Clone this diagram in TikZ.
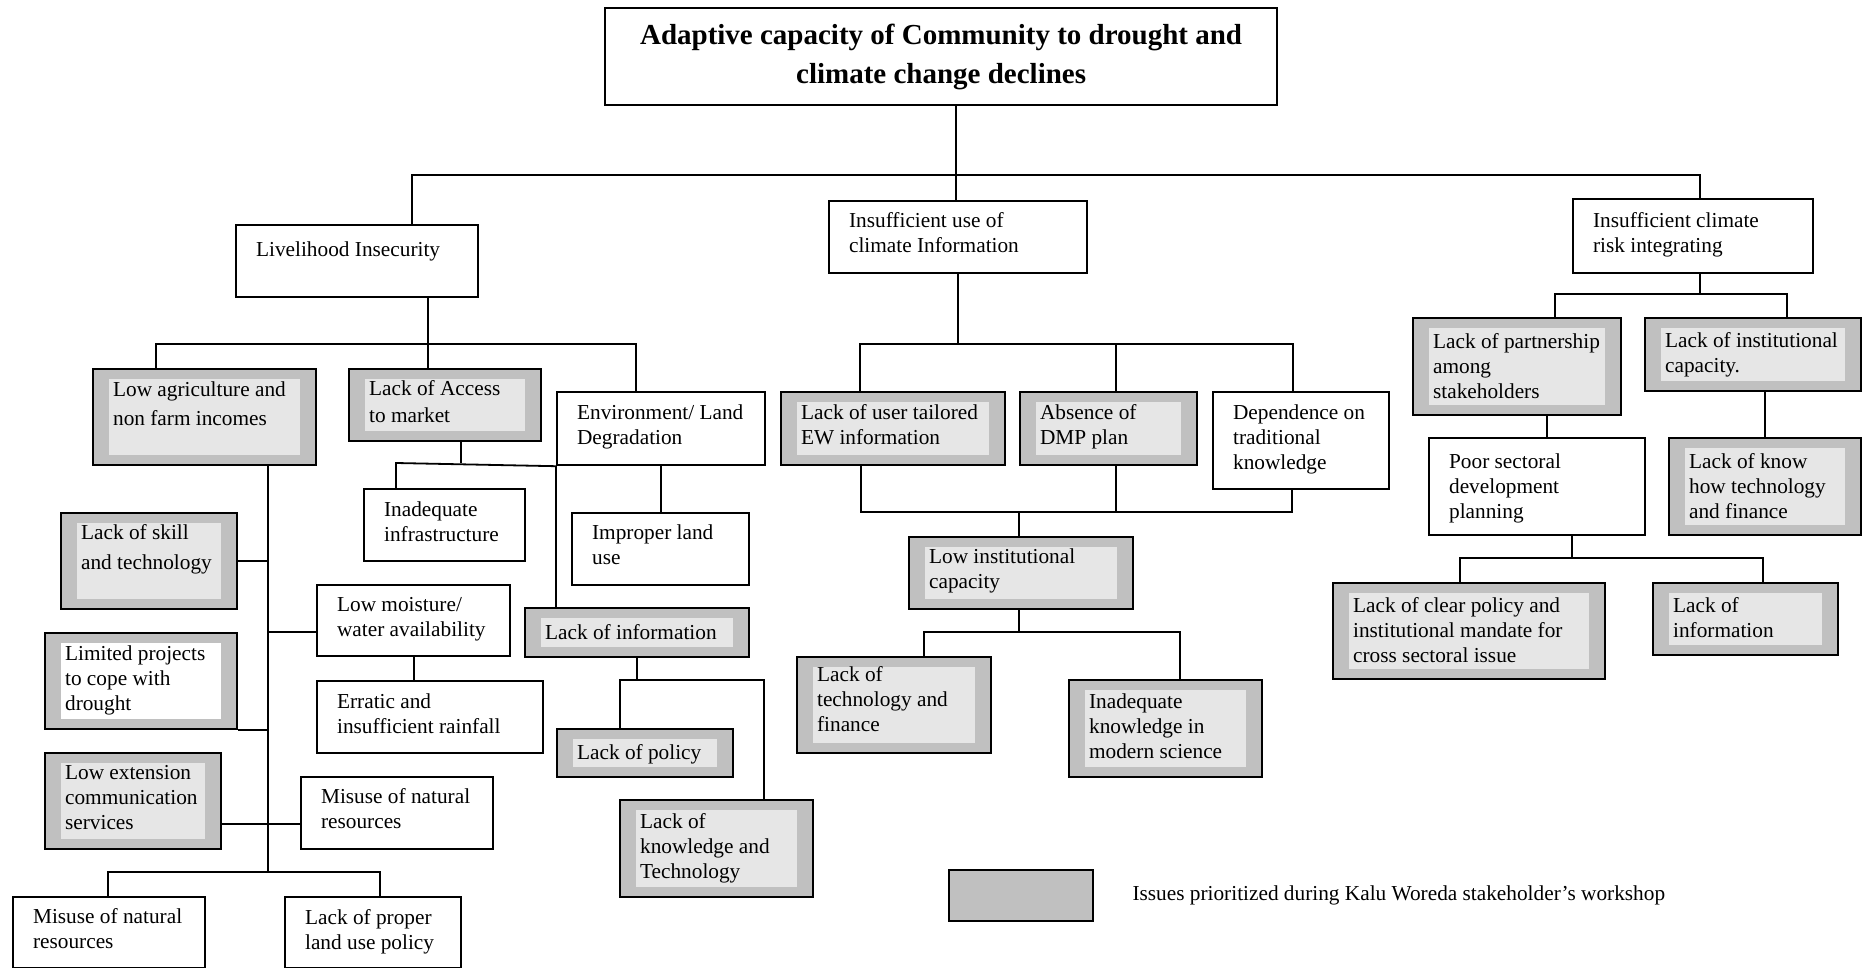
\documentclass[tikz,border=0pt]{standalone}
\usepackage{fontspec}
\setmainfont{Liberation Serif}
\usepackage{tikz}
\usetikzlibrary{calc}
\usetikzlibrary{positioning}

\definecolor{outgray}{HTML}{C0C0C0}
\definecolor{ingray}{HTML}{E6E6E6}

% box text: [top pad]{width}{height}{lines}
\newcommand{\boxtxt}[4][9.5]{\parbox[b][#3pt][t]{#2pt}{\vspace*{#1pt}\hspace*{20pt}\begin{tabular}[t]{@{}l@{}}#4\end{tabular}}}

\tikzset{
  box/.style={draw, line width=2.2pt, anchor=north west, inner sep=0pt},
  plain/.style={box, fill=white},
  prio/.style={box, fill=outgray, path picture={\fill[#1] ([shift={(16pt,-10pt)}]path picture bounding box.north west) rectangle ([shift={(-16pt,10pt)}]path picture bounding box.south east);}},
  prio/.default=ingray,
  conn/.style={line width=1.8pt},
}

\begin{document}
\begin{tikzpicture}[x=1pt,y=-1pt,every node/.style={font=\fontsize{21.3}{25}\selectfont}]
\useasboundingbox (0,0) rectangle (1865,968);

% top
\node[plain, minimum width=672, minimum height=97, align=center, font=\fontsize{29}{39}\selectfont\bfseries] (title) at (604,7) {Adaptive capacity of Community to drought and\\ climate change declines};
\node[plain] (liveli) at (235,224) {\boxtxt[13.5]{242}{72}{Livelihood Insecurity}};
\node[plain] (insuf) at (828,200) {\boxtxt[8.5]{258}{72}{Insufficient use of\\ climate Information}};
\node[plain] (climrisk) at (1572,198) {\boxtxt[10.5]{240}{74}{Insufficient climate\\ risk integrating}};

% livelihood branch
\node[prio] (lowagri) at (92,368) {\boxtxt{223}{96}{Low agriculture and\\[4pt] non farm incomes}};
\node[prio] (access) at (348,368) {\boxtxt[8.5]{192}{72}{Lack of Access\\[2pt] to market}};
\node[plain] (env) at (556,391) {\boxtxt{208}{73}{Environment/ Land\\ Degradation}};
\node[plain] (infra) at (363,488) {\boxtxt{161}{72}{Inadequate\\ infrastructure}};
\node[plain] (improper) at (571,512) {\boxtxt[8.5]{177}{72}{Improper land\\ use}};
\node[prio] (skill) at (60,512) {\boxtxt[8.5]{176}{96}{Lack of skill\\[5pt] and technology}};
\node[plain] (moist) at (316,584) {\boxtxt[8.5]{193}{71}{Low moisture/\\ water availability}};
\node[prio] (lackinfo) at (524,607) {\boxtxt[13.5]{224}{49}{Lack of information}};
\node[prio=white] (limited) at (44,632) {\boxtxt{192}{96}{Limited projects\\ to cope with\\ drought}};
\node[plain] (erratic) at (316,680) {\boxtxt{226}{72}{Erratic and\\ insufficient rainfall}};
\node[prio] (lowext) at (44,752) {\boxtxt[8.5]{176}{96}{Low extension\\ communication\\ services}};
\node[plain] (misuse) at (300,776) {\boxtxt[8.5]{192}{72}{Misuse of natural\\ resources}};
\node[plain] (misusetwo) at (12,896) {\boxtxt[8.5]{192}{71}{Misuse of natural\\ resources}};
\node[plain] (landpol) at (284,896) {\boxtxt{176}{71}{Lack of proper\\ land use policy}};
\node[prio] (policy) at (556,728) {\boxtxt[12.5]{176}{48}{Lack of policy}};
\node[prio] (knowtech) at (619,799) {\boxtxt[10.5]{193}{97}{Lack of\\ knowledge and\\ Technology}};

% climate information branch
\node[prio] (usertail) at (780,391) {\boxtxt{224}{73}{Lack of user tailored\\ EW information}};
\node[prio] (dmp) at (1019,391) {\boxtxt{177}{73}{Absence of\\ DMP plan}};
\node[plain] (depend) at (1212,391) {\boxtxt{176}{97}{Dependence on\\ traditional\\ knowledge}};
\node[prio] (lowinst) at (908,536) {\boxtxt[8.5]{224}{72}{Low institutional\\ capacity}};
\node[prio] (techfin) at (796,656) {\boxtxt[6.5]{194}{96}{Lack of\\ technology and\\ finance}};
\node[prio] (inadeq) at (1068,679) {\boxtxt[10.5]{193}{97}{Inadequate\\ knowledge in\\ modern science}};

% climate risk branch
\node[prio] (partner) at (1412,317) {\boxtxt[12.5]{208}{97}{Lack of partnership\\ among\\ stakeholders}};
\node[prio] (instcap) at (1644,317) {\boxtxt[11.5]{216}{73}{Lack of institutional\\ capacity.}};
\node[plain] (poor) at (1428,437) {\boxtxt[12.5]{216}{97}{Poor sectoral\\ development\\ planning}};
\node[prio] (knowhow) at (1668,437) {\boxtxt[12.5]{192}{97}{Lack of know\\ how technology\\ and finance}};
\node[prio] (clear) at (1332,582) {\boxtxt[11.5]{272}{96}{Lack of clear policy and\\ institutional mandate for\\ cross sectoral issue}};
\node[prio] (infotwo) at (1652,582) {\boxtxt[11.5]{185}{72}{Lack of\\ information}};

% legend
\node[box, fill=outgray, minimum width=144, minimum height=51] (legbox) at (948,869) {};
\node[anchor=west] (legtxt) at (1129,895) {Issues prioritized during Kalu Woreda stakeholder’s workshop};

% top level lines
\coordinate (t1) at (412,175);
\coordinate (t2) at (956,175);
\coordinate (t3) at (1700,175);
\draw[conn] (liveli.north -| t1) -- (t1) -- (t3) -- (climrisk.north -| t3);
\draw[conn] (title.south -| t2) -- (insuf.north -| t2);

% livelihood lines
\coordinate (l1) at (156,344);
\coordinate (l2) at (428,344);
\coordinate (l3) at (636,344);
\draw[conn] (liveli.south -| l2) -- (access.north -| l2);
\draw[conn] (lowagri.north -| l1) -- (l1) -- (l3) -- (env.north -| l3);
\coordinate (a1) at (396,463);
\coordinate (a2) at (461,463);
\draw[conn] (access.south -| a2) -- (a2);
\draw[conn] (infra.north -| a1) -- (a1) -- (env.south west);
\draw[conn] (env.south west) -- (lackinfo.north -| env.south west);
\draw[conn] (env.south -| improper.north) -- (improper.north);

% left spine
\coordinate (s1) at (268,872);
\coordinate (s2) at (268,632);
\coordinate (s3) at (220,824);
\draw[conn] (lowagri.south -| s1) -- (s1);
\draw[conn] (skill.east) -- (skill.east -| s1);
\draw[conn] (s2) -- (moist.west |- s2);
\draw[conn] (limited.south east) -- (limited.south east -| s1);
\draw[conn] (lowext.east |- s3) -- (misuse.west |- s3);
\coordinate (s4) at (108,872);
\coordinate (s5) at (380,872);
\draw[conn] (misusetwo.north -| s4) -- (s4) -- (s5) -- (landpol.north -| s5);
\draw[conn] (moist.south) -- (moist.south |- erratic.north);

% lack of information
\coordinate (i1) at (620,680);
\coordinate (i2) at (764,680);
\draw[conn] (lackinfo.south) -- (lackinfo.south |- i1);
\draw[conn] (policy.north -| i1) -- (i1) -- (i2) -- (knowtech.north -| i2);

% climate information lines
\coordinate (u1) at (860,344);
\coordinate (u2) at (1116,344);
\coordinate (u3) at (1293,344);
\draw[conn] (insuf.south) -- (insuf.south |- u1);
\draw[conn] (usertail.north -| u1) -- (u1) -- (u3) -- (depend.north -| u3);
\draw[conn] (u2) -- (dmp.north -| u2);
\coordinate (d1) at (861,512);
\coordinate (d2) at (1019,512);
\coordinate (d3) at (1292,512);
\draw[conn] (usertail.south -| d1) -- (d1) -- (d3) -- (depend.south -| d3);
\draw[conn] (dmp.south -| u2) -- (u2 |- d1);
\draw[conn] (d2) -- (lowinst.north -| d2);
\coordinate (n1) at (924,632);
\coordinate (n2) at (1180,632);
\draw[conn] (lowinst.south -| d2) -- (d2 |- n1);
\draw[conn] (techfin.north -| n1) -- (n1) -- (n2) -- (inadeq.north -| n2);

% climate risk lines
\coordinate (r1) at (1555,294);
\coordinate (r2) at (1787,294);
\coordinate (r3) at (1547,437);
\draw[conn] (climrisk.south -| t3) -- (t3 |- r1);
\draw[conn] (partner.north -| r1) -- (r1) -- (r2) -- (instcap.north -| r2);
\draw[conn] (partner.south -| r3) -- (r3);
\draw[conn] (instcap.south -| knowhow.north) -- (knowhow.north);
\coordinate (p1) at (1460,558);
\coordinate (p2) at (1572,558);
\coordinate (p3) at (1763,558);
\draw[conn] (poor.south -| p2) -- (p2);
\draw[conn] (clear.north -| p1) -- (p1) -- (p3) -- (infotwo.north -| p3);

\end{tikzpicture}
\end{document}
